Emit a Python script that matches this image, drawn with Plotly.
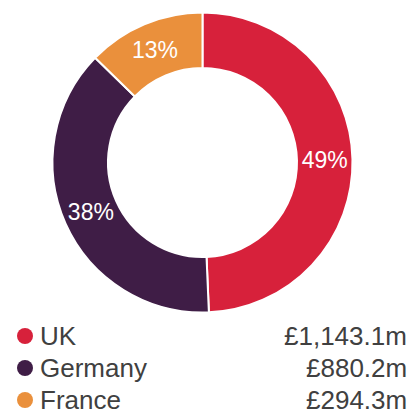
import plotly.graph_objects as go

countries = ["UK", "Germany", "France"]
values = [1143.1, 880.2, 294.3]
value_labels = ["£1,143.1m", "£880.2m", "£294.3m"]
colors = ["#D7213B", "#3F1D46", "#EA903C"]

W, H = 410, 409
FONT = "Arial"

def px_x(x):
    return x / W

def px_y(y):
    return (H - y) / H

cx, cy, r = 202.5, 162.5, 150

fig = go.Figure()
fig.add_trace(go.Pie(
    labels=countries,
    values=values,
    sort=False,
    direction="clockwise",
    rotation=0,
    hole=0.63,
    marker=dict(colors=colors, line=dict(color="white", width=2)),
    textinfo="percent",
    texttemplate="%{percent:.0%}",
    textposition="inside",
    insidetextorientation="horizontal",
    textfont=dict(color="white", size=23, family=FONT),
    domain=dict(x=[px_x(cx - r), px_x(cx + r)], y=[px_y(cy + r), px_y(cy - r)]),
    showlegend=False,
    hoverinfo="label+value+percent",
))

rows_y = [336, 368, 400]
annotations = []
shapes = []
for name, lab, col, yy in zip(countries, value_labels, colors, rows_y):
    shapes.append(dict(type="circle", xref="paper", yref="paper",
                       x0=px_x(17), x1=px_x(33), y0=px_y(yy + 8), y1=px_y(yy - 8),
                       fillcolor=col, line=dict(width=0)))
    annotations.append(dict(x=px_x(38), y=px_y(yy), xref="paper", yref="paper", xanchor="left", yanchor="middle",
                            text=name, showarrow=False, font=dict(size=26, color="#404040", family=FONT)))
    annotations.append(dict(x=px_x(409), y=px_y(yy), xref="paper", yref="paper", xanchor="right", yanchor="middle",
                            text=lab, showarrow=False, font=dict(size=26, color="#404040", family=FONT)))

fig.update_layout(
    width=W, height=H,
    margin=dict(l=0, r=0, t=0, b=0),
    paper_bgcolor="white", plot_bgcolor="white",
    annotations=annotations,
    shapes=shapes,
)

fig.write_html(
    "out.html",
    config={"displayModeBar": False},
    post_script="document.body.style.margin='0';document.body.style.overflow='hidden';",
)
